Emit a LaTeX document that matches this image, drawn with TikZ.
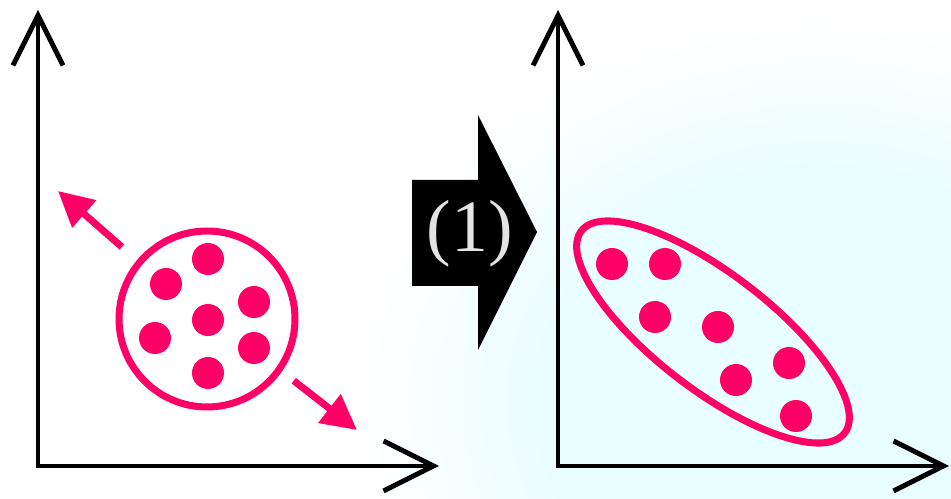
\documentclass[tikz,border=0pt]{standalone}
\usepackage{fontspec}
\setmainfont{Liberation Serif}
\usetikzlibrary{arrows.meta, shapes.geometric}
\definecolor{hotpink}{RGB}{255,0,102}
\definecolor{glowcyan}{RGB}{232,254,255}
\definecolor{labelgray}{RGB}{228,228,228}
\pgfdeclareradialshading{glow}{\pgfpoint{0bp}{0bp}}{color(0bp)=(glowcyan); color(14bp)=(glowcyan); color(25bp)=(white); color(50bp)=(white)}
\tikzset{
  axes/.style={line width=2.8pt,
               {Straight Barb[length=1cm, width=1cm]}-{Straight Barb[length=1cm, width=1cm]}},
  dot/.style={circle, fill=hotpink, inner sep=0pt, minimum size=0.64cm},
  ring/.style={draw=hotpink, line width=4pt, inner sep=0pt},
  push/.style={draw=hotpink, line width=4pt, -{Triangle[length=0.7cm, width=0.7cm]}},
}

\begin{document}
\begin{tikzpicture}[x=0.02cm, y=-0.02cm]
  \useasboundingbox (0,0) rectangle (951,499);
  \begin{scope}
    \clip (0,0) rectangle (951,499);
    \shade[shading=glow] (820,400) ellipse [x radius=460, y radius=380];
  \end{scope}

  \coordinate (o1) at (38,466);
  \coordinate (y1) at (38,10);
  \coordinate (x1) at (439,466);
  \coordinate (o2) at (558,466);
  \coordinate (y2) at (558,10);
  \coordinate (x2) at (949,466);
  \draw[axes] (y1) -- (o1) -- (x1);
  \draw[axes] (y2) -- (o2) -- (x2);

  \node[ring, circle, minimum size=3.52cm] (blob) at (207,319) {};
  \foreach \p in {(208,259), (166,284), (254,302), (208,320), (155,338), (254,348), (208,373)}
    \node[dot] at \p {};
  \coordinate (tipA) at (58,191);
  \coordinate (tipB) at (357,430);
  \draw[push, shorten <=0.4cm] (blob.140) -- (tipA);
  \draw[push, shorten <=0.3cm] (blob.-35) -- (tipB);

  \fill (412,180) -- (478,180) -- (478,115) -- (537,232) -- (478,350) -- (478,286) -- (412,286) -- cycle;
  \node[text=labelgray, font=\fontsize{42}{42}\selectfont, inner sep=0pt] (stage) at (470,234) {(1)};

  \node[ring, ellipse, minimum width=6.64cm, minimum height=2.32cm, rotate=-37.5] (cloud) at (713,332) {};
  \foreach \p in {(612,264), (665,264), (655,317), (718,327), (789,363), (736,380), (796,416)}
    \node[dot] at \p {};
\end{tikzpicture}
\end{document}
